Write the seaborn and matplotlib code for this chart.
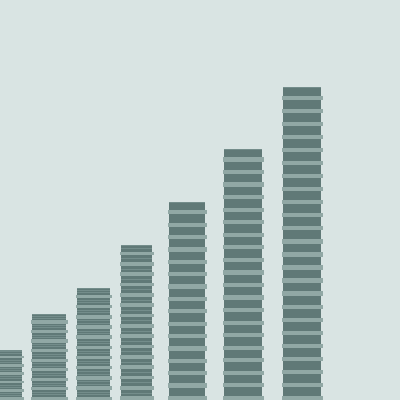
import matplotlib
matplotlib.use("Agg")
import matplotlib.pyplot as plt
import seaborn as sns
import pandas as pd
import numpy as np

# ---- data ----
categories = ["A", "B", "C", "D", "E", "F", "G"]
values = [50, 86, 112, 155, 198, 251, 313]      # stack heights
coins = [6, 9, 11, 15, 16, 20, 24]              # coins in each stack
fine_lines = [2, 2, 2, 1, 0, 0, 0]              # thin rim lines inside each coin

# ---- layout / style ----
centers = [6, 49, 93.5, 136.5, 187, 243, 302]
widths = [32, 34, 33, 31, 36, 38, 38]
BG = "#d9e4e3"
DARK = "#607977"
LIGHT = "#91a8a5"
MID = "#748d8b"

sns.set_theme(style="white")
fig = plt.figure(figsize=(4, 4), dpi=100, facecolor=BG)
ax = fig.add_axes([0, 0, 1, 1])
ax.set_facecolor(BG)

df = pd.DataFrame({"pos": centers, "value": values, "cat": categories})
sns.barplot(data=df, x="pos", y="value", native_scale=True, color=DARK,
            saturation=1, ax=ax, errorbar=None)
for p, c, w in zip(ax.patches, centers, widths):
    p.set_x(c - w / 2)
    p.set_width(w)
    p.set_linewidth(0)

for c, w, v, n, f in zip(centers, widths, values, coins, fine_lines):
    h = v / n
    band = min(4.2, h * 0.34)
    for k in range(n):
        b = k * h
        ax.bar(c, band, bottom=b, width=w + 3, color=LIGHT, linewidth=0)
        for j in range(f):
            yb = b + band + (h - band) * (j + 1) / (f + 1) - 0.6
            ax.bar(c, 1.0, bottom=yb, width=w, color=MID, linewidth=0)
    # top edge highlight
    ax.bar(c, 1.0, bottom=v - 1.0, width=w, color=MID, linewidth=0)

ax.set_xlim(0, 400)
ax.set_ylim(0, 400)
ax.axis("off")
fig.savefig("out.png", dpi=100, facecolor=BG)
